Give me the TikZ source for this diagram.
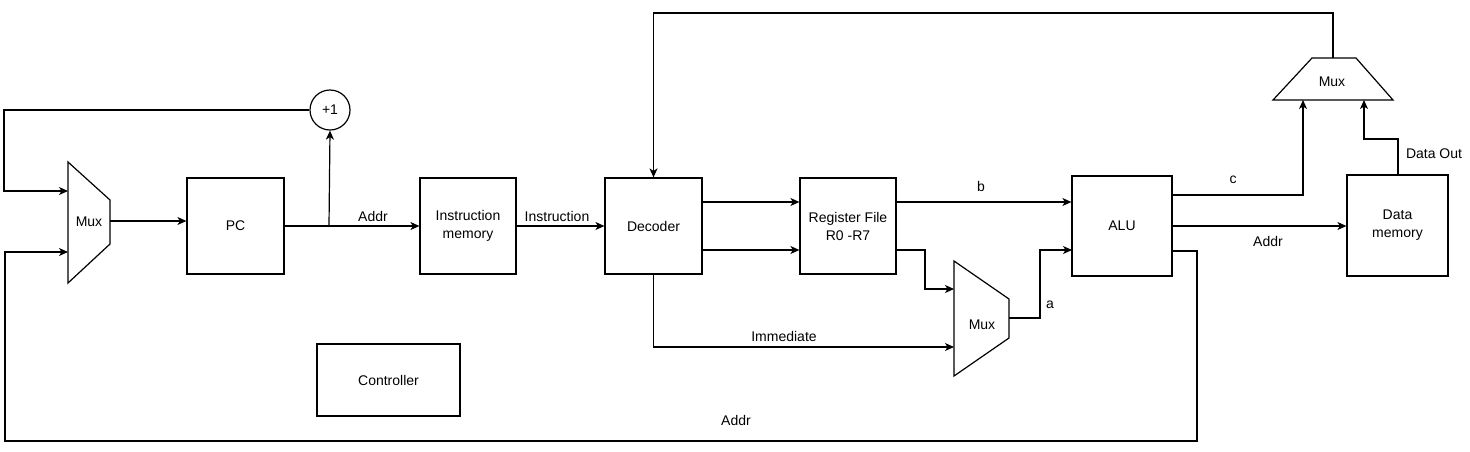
\documentclass[tikz,border=0pt]{standalone}
\usepackage{fontspec}
\setmainfont{Liberation Sans}
\usetikzlibrary{arrows.meta,calc}
\begin{document}
\begin{tikzpicture}[x=1pt,y=-1pt,
  every node/.style={font=\fontsize{14}{18}\selectfont, text=black},
  blk/.style={draw, line width=1.2pt, minimum width=#1, minimum height=#1, inner sep=0pt, align=center},
  wire/.style={line width=1.2pt},
  arr/.style={wire, -{Stealth[length=9pt,width=8pt,inset=2.5pt]}},
  muxshape/.style={draw, line width=1.2pt, line join=miter},
  lbl/.style={inner sep=0pt}
]
\useasboundingbox (0,0) rectangle (1470,451);

% boxes
\node[blk=96pt, minimum width=97pt] (PC) at (235.5,226) {PC};
\node[blk=96pt] (IM) at (468,226) {Instruction\\memory};
\node[blk=96pt, minimum width=97pt] (Dec) at (653.5,226) {Decoder};
\node[blk=96pt] (RF) at (848,226) {Register File\\R0 -R7};
\node[blk=100pt] (ALU) at (1122,226) {ALU};
\node[blk=101pt] (DM) at (1397.5,225.5) {Data\\memory};
\node[blk=72pt, minimum width=143pt] (Ctrl) at (388.5,380) {Controller};
\node[draw, circle, line width=1.2pt, minimum size=40pt, inner sep=0pt] (plus) at (330,110) {+1};

% muxes
\draw[muxshape] (68,162) -- (110,200) -- (110,244) -- (68,283) -- cycle;
\node (mux1) at (89,222) {Mux};
\coordinate (m1a) at (68,191);
\coordinate (m1b) at (68,252);
\coordinate (m1o) at (110,221);

\draw[muxshape] (954,261) -- (1009,299) -- (1009,338) -- (954,376) -- cycle;
\node (mux2) at (982,325) {Mux};
\coordinate (m2a) at (954,289);
\coordinate (m2b) at (954,347);
\coordinate (m2o) at (1009,318);

\draw[muxshape] (1273,100) -- (1312,58) -- (1356,58) -- (1393,100) -- cycle;
\node (mux3) at (1332,82) {Mux};
\coordinate (m3a) at (1303,100);
\coordinate (m3b) at (1364,100);
\coordinate (m3o) at (1333,58);

% connectors
\draw[arr] (plus.west) -- (4,110) |- (m1a);
\draw[arr] (m1o) -- (m1o -| PC.west);
\coordinate (split) at (329,226);
\draw[arr] (PC.east) -- (IM.west);
\draw[arr] (split) -- (plus.south);
\node[lbl] (laddr1) at (373,216) {Addr};
\draw[arr] (IM.east) -- (Dec.west);
\node[lbl] (linstr) at (557,216) {Instruction};

\coordinate (d1) at (702,202);
\coordinate (d2) at (702,250);
\draw[arr] (d1) -- (d1 -| RF.west);
\draw[arr] (d2) -- (d2 -| RF.west);

\coordinate (r1) at (896,202);
\coordinate (r2) at (896,250);
\draw[arr] (r1) -- (r1 -| ALU.west);
\node[lbl] (lb) at (981,186) {b};
\draw[arr] (r2) -- (925,250) |- (m2a);

\draw[arr] (Dec.south) |- (m2b);
\node[lbl] (limm) at (784,336) {Immediate};

\draw[arr] (m2o) -- (1040,318) |- (1072,250);
\node[lbl] (la) at (1050,305) {a};

\coordinate (a1) at (1172,195);
\coordinate (a2) at (1172,226);
\coordinate (a3) at (1172,251);
\draw[arr] (a1) -| (m3a);
\node[lbl] (lc) at (1233,180) {c};
\draw[arr] (a2) -- (a2 -| DM.west);
\node[lbl] (laddr2) at (1268,241) {Addr};
\draw[arr] (a3) -- (1197,251) -- (1197,441) -- (5,441) -- (5,252) -- (m1b);
\node[lbl] (laddr3) at (736,420) {Addr};

\coordinate (dmtop) at (1398,175);
\draw[arr] (dmtop) -- (1398,139) -| (m3b);
\node[lbl] (ldout) at (1434,154) {Data Out};

\draw[arr] (m3o) -- (1333,13) -| (Dec.north);
\end{tikzpicture}
\end{document}
